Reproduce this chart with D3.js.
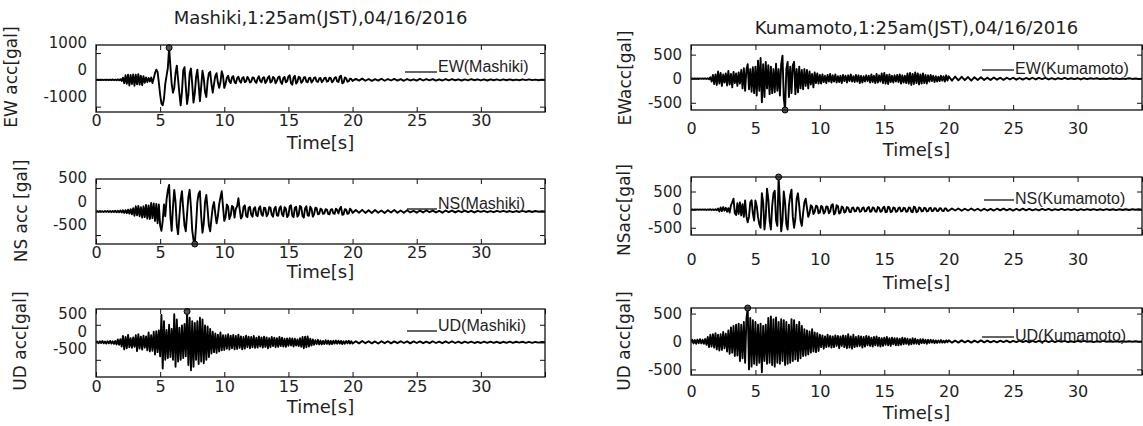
<!DOCTYPE html>
<html><head><meta charset="utf-8">
<script src="https://cdn.jsdelivr.net/npm/d3@7"></script>
<style>
html,body{margin:0;padding:0;background:#fff;}
svg{display:block;}
text{font-family:"DejaVu Sans",sans-serif;fill:#1e1e1e;}
</style></head><body>
<svg id="c" width="1143" height="426"></svg>
<script>
// ---------------- DATA ----------------
const dt = 0.1;        // head sampling step [s] (0 - 19.9 s)
const tailStart = 20;  // tail begins [s]
const dtTail = 0.25;   // tail sampling step [s] (20 - 35 s)
const xTickValues = [0, 5, 10, 15, 20, 25, 30, 35];
const xTickLabels = ["0", "5", "10", "15", "20", "25", "30", ""];
const titles = ["Mashiki,1:25am(JST),04/16/2016", "Kumamoto,1:25am(JST),04/16/2016"];
const yLabels = ["EW acc[gal]", "NS acc [gal]", "UD acc[gal]", "EWacc[gal]", "NSacc[gal]", "UD acc[gal]"];
const legendLabels = ["EW(Mashiki)", "NS(Mashiki)", "UD(Mashiki)", "EW(Kumamoto)", "NS(Kumamoto)", "UD(Kumamoto)"];
const yDomains = [[-1200, 1300], [-690, 690], [-990, 950], [-650, 700], [-700, 900], [-600, 600]];
const yTickValues = [[-1000, 0, 1000], [-500, 0, 500], [-500, 0, 500], [-500, 0, 500], [-500, 0, 500], [-500, 0, 500]];

const ewMashiki = [
 0,6,-5,8,-7,5,-8,7,-6,9,
 -10,12,-9,14,-12,10,-15,18,-20,25,
 -40,80,-130,170,-150,190,-210,180,-160,200,
 -220,190,-170,210,-180,150,-200,140,-110,90,
 -80,70,-60,90,-120,60,250,380,300,-100,
 -550,-880,-950,-700,-150,150,450,1200,500,-150,
 -480,-300,250,530,20,-500,-950,-450,350,470,
 -250,-900,-550,250,420,-150,-850,-500,100,380,
 -150,-800,-250,340,50,-450,-640,-50,250,300,
 -150,-480,-150,150,250,-100,-300,-100,320,150,
 -300,-150,80,150,-60,-120,90,140,-80,-130,
 60,120,-40,-110,70,100,-90,-60,110,40,
 -100,-70,90,80,-60,-110,50,130,-40,-90,
 70,100,-120,-50,80,140,-100,-60,110,60,
 -130,-40,90,120,-80,-150,60,110,-90,-50,
 130,170,-120,-180,90,150,-140,-70,120,80,
 -110,-60,90,100,-70,-90,60,80,-100,-40,
 70,90,-60,-80,50,70,-90,-30,60,80,
 -70,-50,80,60,-90,-40,70,100,-60,-80,
 120,150,-130,-100,90,60,-70,-50,40,30];
const ewMashikiTail = [-40,35,-30,45,-35,30,-40,25,-30,40,-35,30,-25,35,-30,25,-35,30,-25,20,-30,35,-25,30,-20,25,-30,20,-25,30,-20,25,-15,20,-25,15,-20,25,-15,20,-20,15,-25,20,-15,15,-20,15,-15,20,-15,10,-15,15,-10,15,-10,10,-15,10,-5];

const nsMashiki = [
 0,8,-6,10,-8,6,-10,9,-7,10,
 -12,10,-14,12,-10,15,-18,14,-16,20,
 -22,25,-30,28,-35,40,-45,50,-60,70,
 -90,110,-80,120,-100,90,-130,110,-120,140,
 -150,130,-160,180,-140,170,-200,160,-250,150,
 -300,-410,-200,150,-100,250,450,565,-100,-410,
 100,460,200,-300,-484,-100,250,430,50,-300,
 -420,-50,300,460,100,-400,-600,-690,-300,200,
 380,430,-100,-450,-250,200,350,50,-300,-420,
 -150,100,200,-50,-250,-100,150,300,430,100,
 -200,-120,150,100,-160,-80,120,90,-130,60,
 110,280,50,-150,-100,100,130,-90,-120,80,
 100,-70,-110,60,90,-80,-100,70,110,-60,
 -90,80,70,-100,-60,90,80,-70,-110,60,
 100,-80,-90,70,110,-60,-100,90,60,-120,
 -80,110,130,-90,-120,80,100,-110,-70,120,
 90,-100,-130,70,110,-80,-90,100,60,-110,
 -60,80,70,-60,-50,60,40,-50,-40,50,
 40,-50,-60,40,50,-40,-50,60,30,-40,
 60,100,-70,-60,50,40,-50,-40,60,30];
const nsMashikiTail = [-30,30,-25,35,-30,25,-30,30,-25,20,-30,25,-20,30,-25,20,-25,25,-20,15,-25,20,-20,25,-15,20,-20,15,-25,20,-15,20,-20,15,-15,20,-15,15,-20,15,-10,15,-15,10,-15,15,-10,15,-10,10,-15,10,-10,15,-10,10,-10,10,-5,5,0];

const udMashiki = [
 0,20,-25,30,-20,35,-30,25,-35,30,
 -30,40,-35,30,-45,40,-60,80,-70,90,
 -120,180,-200,150,-170,210,-140,120,-160,140,
 -130,200,-250,230,-180,160,-210,190,-150,170,
 -230,280,-260,200,-240,300,-350,320,-280,340,
 -400,780,-750,600,-500,350,-450,500,-420,380,
 -500,800,-700,650,-550,420,-500,480,-450,520,
 -400,880,-650,700,-800,600,-700,550,-500,600,
 -620,700,-550,650,-600,480,-500,450,-420,380,
 -320,300,-280,250,-300,220,-260,280,-230,200,
 -220,200,-180,230,-210,190,-170,210,-200,180,
 -190,220,-160,170,-200,150,-180,190,-140,160,
 -170,150,-140,180,-160,130,-150,170,-120,140,
 -150,160,-130,140,-170,120,-140,150,-110,130,
 -140,120,-130,150,-110,130,-120,100,-130,110,
 -100,120,-90,110,-120,100,-90,80,-110,120,
 -130,150,-170,160,-140,170,-120,100,-90,80,
 -70,60,-50,70,-60,50,-60,40,-50,60,
 -45,50,-60,40,-50,45,-35,50,-40,45,
 -35,40,-50,30,-40,35,-30,45,-35,30];
const udMashikiTail = [-35,30,-30,35,-25,30,-30,25,-35,30,-25,30,-30,25,-25,30,-20,25,-30,25,-20,25,-25,20,-25,30,-20,20,-25,25,-20,25,-20,20,-25,20,-15,20,-20,15,-20,20,-15,20,-15,15,-20,15,-15,20,-15,15,-10,15,-15,10,-15,10,-10,10,0];

const ewKumamoto = [
 0,5,-4,6,-5,4,-6,5,-4,6,
 -5,8,-6,10,-12,30,-60,80,-110,90,
 -130,150,-100,120,-150,90,-80,110,-140,160,
 -120,100,-180,140,-90,110,-150,130,-100,180,
 -200,220,-250,180,300,-220,200,-270,240,-300,
 250,-350,375,-250,430,-490,300,-380,350,-200,
 280,-320,250,-300,200,-280,310,-250,200,-350,
 300,480,-400,-650,200,350,-380,250,-300,280,
 350,-320,200,-280,250,-200,180,-220,200,-150,
 180,-200,150,-120,100,-180,130,-90,110,-100,
 80,-100,90,-70,60,-90,80,-60,100,-80,
 70,-60,90,-80,50,-70,60,-90,80,-50,
 60,-80,70,-50,90,-60,50,-70,80,-60,
 70,-90,60,-80,50,-60,70,-50,60,-80,
 90,-70,60,-90,100,-80,70,-60,110,-90,
 120,-100,80,-110,90,-70,60,-80,70,-60,
 80,-70,90,-100,70,-80,60,-90,110,-100,
 120,-130,100,-110,130,-90,110,-120,90,-100,
 110,-90,80,-100,70,-60,80,-50,60,-70,
 50,-60,40,-50,60,-40,50,-60,70,-40];
const ewKumamotoTail = [50,-40,45,-35,40,-30,35,-40,30,-25,30,-25,20,-25,25,-20,20,-25,20,-15,20,-20,15,-20,15,-15,20,-15,15,-10,15,-15,10,-15,10,-10,15,-10,10,-10,10,-15,10,-10,10,-5,10,-10,5,-10,10,-5,5,-10,5,-5,10,-5,5,-5,0];

const nsKumamoto = [
 0,6,-5,8,-6,5,-7,6,-5,8,
 -6,8,-10,7,-9,12,-10,8,-12,10,
 -15,30,-50,60,-40,70,-30,50,-60,40,
 -80,120,200,300,-100,-150,180,-120,200,-160,
 150,-200,250,-180,-350,-200,200,260,-100,-300,
 250,100,-200,-400,-500,450,200,-550,-200,580,
 300,-300,-550,100,450,520,-300,-450,900,200,
 -600,-300,500,200,-400,-550,100,400,550,-200,
 -500,-250,300,450,100,-300,-450,-100,200,300,
 50,-200,-100,120,80,-120,-60,110,90,-100,
 -80,100,70,-110,-60,90,80,-100,-50,120,
 150,-130,-90,120,100,-110,-80,90,60,-80,
 -60,70,50,-60,-70,50,60,-50,-40,60,
 50,-60,-50,40,60,-50,-40,50,70,-60,
 -50,60,40,-50,-60,70,50,-60,-40,50,
 80,-70,-60,80,60,-70,-50,60,50,-60,
 -50,40,60,-50,-40,50,40,-60,-50,60,
 50,-60,-70,80,60,-70,-50,60,40,-50,
 -40,50,40,-50,-40,40,50,-40,-30,40,
 30,-40,-30,40,30,-30,-40,30,30,-30];
const nsKumamotoTail = [-30,30,-25,30,-30,25,-25,30,-25,25,-30,25,-25,20,-25,25,-20,25,-20,20,-25,20,-20,25,-20,20,-20,15,-20,20,-15,20,-20,15,-15,20,-15,15,-15,15,-20,15,-15,15,-10,15,-15,10,-15,15,-10,10,-15,10,-10,10,-10,10,-5,10,0];

const udKumamoto = [
 0,30,-35,25,-40,35,-30,40,-35,30,
 -40,45,-60,80,-100,120,-90,130,-110,150,
 -140,120,-160,130,-150,170,-120,140,-180,200,
 -220,250,-200,280,-260,300,-250,320,-350,300,
 -300,350,-380,400,600,-500,420,-450,380,-400,
 350,-420,300,-380,320,-550,280,-350,300,-400,
 420,-380,450,-420,400,-450,430,-380,350,-400,
 400,-350,380,-420,350,-400,300,-380,400,-350,
 380,-320,300,-350,350,-300,280,-260,220,-250,
 200,-230,180,-200,220,-180,160,-190,150,-170,
 120,-100,110,-130,90,-100,120,-90,100,-110,
 90,-100,110,-80,100,-120,90,-80,110,-100,
 100,-120,130,-110,90,-130,120,-100,80,-90,
 100,-80,90,-110,80,-90,100,-70,90,-80,
 70,-90,80,-70,90,-80,70,-90,60,-80,
 70,-60,80,-70,60,-80,70,-50,60,-70,
 60,-70,50,-60,70,-50,60,-40,50,-60,
 40,-50,60,-40,50,-40,30,-50,40,-30,
 40,-30,30,-40,30,-25,30,-20,25,-30,
 20,-25,20,-20,25,-20,15,-20,20,-15];
const udKumamotoTail = [20,-20,15,-20,20,-15,15,-20,15,-15,20,-15,15,-15,10,-15,15,-10,15,-15,10,-10,15,-10,10,-15,10,-10,10,-10,15,-10,10,-10,10,-5,10,-10,5,-10,10,-5,10,-5,5,-10,5,-5,10,-5,5,-5,5,-5,5,-5,5,-5,5,-5,0];

const heads = [ewMashiki, nsMashiki, udMashiki, ewKumamoto, nsKumamoto, udKumamoto];
const tails = [ewMashikiTail, nsMashikiTail, udMashikiTail, ewKumamotoTail, nsKumamotoTail, udKumamotoTail];

// ---------------- LAYOUT ----------------
const cols = [{x0: 96, x1: 545, titleY: 19}, {x0: 691, x1: 1142, titleY: 29}];
const layout = [
 {col:0, top:45,  bottom:112, labShift:-10, xPad:3,  timeY:144, ylx:12, yly:77,  lg:{x0:405,x1:437,y:72,  ty:72,  base:"under"}},
 {col:0, top:179, bottom:244, labShift:-10, xPad:3,  timeY:273, ylx:22, yly:211, lg:{x0:407,x1:437,y:209, ty:209, base:"under"}},
 {col:0, top:309, bottom:377, labShift:-11, xPad:4,  timeY:408, ylx:21, yly:341, lg:{x0:407,x1:437,y:331, ty:331, base:"under"}},
 {col:1, top:45,  bottom:110, labShift:0,   xPad:13, timeY:151, ylx:626, yly:78,  lg:{x0:982,x1:1014,y:70,  ty:70,  base:"mid"}},
 {col:1, top:177, bottom:235, labShift:0,   xPad:19, timeY:284, ylx:625, yly:210, lg:{x0:984,x1:1014,y:200, ty:200, base:"mid"}},
 {col:1, top:308, bottom:375, labShift:0,   xPad:11, timeY:414, ylx:625, yly:341, lg:{x0:982,x1:1014,y:337, ty:337, base:"mid"}}
];

const svg = d3.select("#c");

cols.forEach((c, i) => {
  svg.append("text").attr("x", (c.x0 + c.x1) / 2).attr("y", c.titleY)
    .attr("text-anchor", "middle").attr("dominant-baseline", "middle")
    .style("font-size", "18px").text(titles[i]);
});

layout.forEach((L, k) => {
  const c = cols[L.col];
  const x = d3.scaleLinear().domain([0, 35]).range([c.x0, c.x1]);
  const y = d3.scaleLinear().domain(yDomains[k]).range([L.bottom, L.top]);
  const pts = heads[k].map((v, i) => [i * dt, v])
    .concat(tails[k].map((v, i) => [tailStart + i * dtTail, v]));

  const g = svg.append("g");
  const clipId = "clip" + k;
  g.append("clipPath").attr("id", clipId).append("rect")
    .attr("x", c.x0).attr("y", L.top).attr("width", c.x1 - c.x0).attr("height", L.bottom - L.top);

  g.append("path").datum(pts).attr("clip-path", `url(#${clipId})`)
    .attr("fill", "none").attr("stroke", "#000").attr("stroke-width", 1.9)
    .attr("stroke-linejoin", "round")
    .attr("d", d3.line().x(d => x(d[0])).y(d => y(d[1])));

  // peak marker
  const peak = pts.reduce((a, b) => Math.abs(b[1]) > Math.abs(a[1]) ? b : a);
  g.append("circle").attr("cx", x(peak[0])).attr("cy", y(peak[1])).attr("r", 3)
    .attr("fill", "#555").attr("stroke", "#000").attr("stroke-width", 1);

  // axes
  const ax = g.append("g").attr("transform", `translate(0,${L.bottom})`)
    .call(d3.axisBottom(x).tickValues(xTickValues).tickFormat((d, i) => xTickLabels[i])
      .tickSizeInner(-5).tickSizeOuter(0).tickPadding(L.xPad));
  ax.selectAll("text").style("font-size", "16px").attr("fill", "#1e1e1e");
  g.append("g").attr("transform", `translate(0,${L.top})`)
    .call(d3.axisTop(x).tickValues(xTickValues).tickFormat("").tickSizeInner(-5).tickSizeOuter(0));
  const ay = g.append("g").attr("transform", `translate(${c.x0},0)`)
    .call(d3.axisLeft(y).tickValues(yTickValues[k]).tickFormat(d => String(d))
      .tickSizeInner(-5).tickSizeOuter(0).tickPadding(9));
  ay.selectAll("text").style("font-size", "15px").attr("y", L.labShift).attr("fill", "#1e1e1e");
  g.append("g").attr("transform", `translate(${c.x1},0)`)
    .call(d3.axisRight(y).tickValues(yTickValues[k]).tickFormat("").tickSizeInner(-5).tickSizeOuter(0));
  g.selectAll(".domain").remove();
  g.selectAll(".tick line").attr("stroke", "#111");

  g.append("rect").attr("x", c.x0).attr("y", L.top).attr("width", c.x1 - c.x0).attr("height", L.bottom - L.top)
    .attr("fill", "none").attr("stroke", "#111").attr("stroke-width", 1.3);

  // x label
  g.append("text").attr("x", (c.x0 + c.x1) / 2).attr("y", L.timeY)
    .attr("text-anchor", "middle").attr("dominant-baseline", "middle")
    .style("font-size", "18px").text("Time[s]");
  // y label
  g.append("text").attr("transform", `translate(${L.ylx},${L.yly}) rotate(-90)`)
    .attr("text-anchor", "middle").attr("dominant-baseline", "middle")
    .style("font-size", "17px").text(yLabels[k]);
  // legend
  g.append("line").attr("x1", L.lg.x0).attr("x2", L.lg.x1).attr("y1", L.lg.y).attr("y2", L.lg.y)
    .attr("stroke", "#111").attr("stroke-width", 1.3);
  g.append("text").attr("x", L.lg.x1 + 1).attr("y", L.lg.ty)
    .attr("dominant-baseline", L.lg.base === "mid" ? "middle" : "auto")
    .style("font-family", "'Liberation Sans', Arial, sans-serif").style("font-size", "16px")
    .text(legendLabels[k]);
});
</script>
</body></html>
